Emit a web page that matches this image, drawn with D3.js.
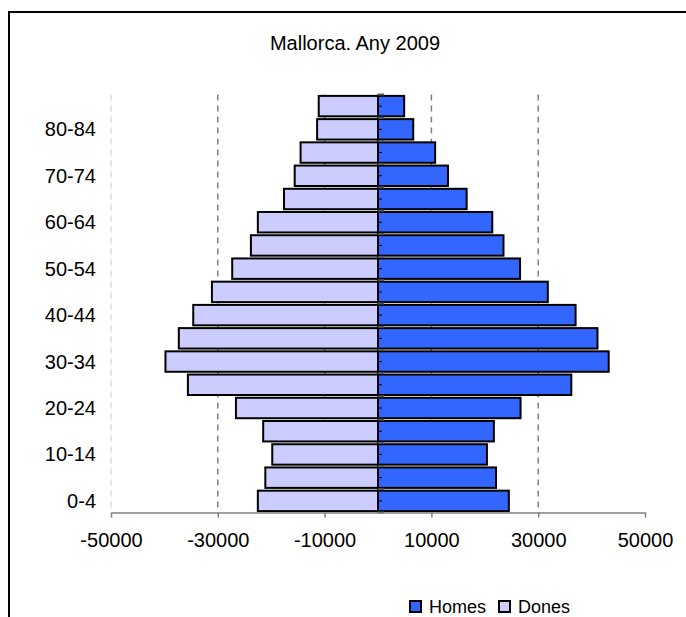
<!DOCTYPE html>
<html>
<head>
<meta charset="utf-8">
<script src="https://cdn.jsdelivr.net/npm/d3@7"></script>
<style>
  body { margin: 0; background: #fff; }
  svg { display: block; font-family: "Liberation Sans", Arial, sans-serif; }
</style>
</head>
<body>
<svg id="chart" width="686" height="617"></svg>
<script>
// age groups, bottom to top
var ageGroups = ['0-4', '5-9', '10-14', '15-19', '20-24', '25-29', '30-34', '35-39', '40-44',
  '45-49', '50-54', '55-59', '60-64', '65-69', '70-74', '75-79', '80-84', '85+'];
var homes = [24500, 22100, 20400, 21700, 26700, 36200, 43200, 41100, 37000,
  31800, 26600, 23500, 21400, 16600, 13100, 10700, 6600, 4900];
var dones = [22500, 21100, 19800, 21500, 26600, 35600, 39800, 37300, 34600,
  31100, 27300, 23800, 22500, 17600, 15600, 14500, 11400, 11100];
var xTicks = [-50000, -30000, -10000, 10000, 30000, 50000];
var shownLabels = ['0-4', '10-14', '20-24', '30-34', '40-44', '50-54', '60-64', '70-74', '80-84'];
var title = 'Mallorca. Any 2009';

(function () {
  'use strict';

  var svg = d3.select('#chart');
  var plot = { left: 111, right: 645, top: 94.5, bottom: 512.5 };
  var colHomes = '#3366ff', colDones = '#ccccff';

  // outer chart frame (runs off the right and bottom of the window)
  svg.append('rect')
    .attr('x', 9).attr('y', 12).attr('width', 720).attr('height', 640)
    .attr('fill', '#fff').attr('stroke', '#000').attr('stroke-width', 2);

  svg.append('text').attr('x', 355).attr('y', 50)
    .attr('text-anchor', 'middle').style('font-size', '20px')
    .text(title);

  var x = d3.scaleLinear().domain([-50000, 50000]).range([plot.left, plot.right]);
  var y = d3.scaleBand().domain(ageGroups.slice().reverse())
    .range([plot.top, plot.bottom]).paddingInner(0.12).paddingOuter(0.06);

  // vertical gridlines
  svg.append('g').selectAll('line')
    .data(xTicks.slice(0, -1)).enter().append('line')
    .attr('x1', function (d) { return x(d); }).attr('x2', function (d) { return x(d); })
    .attr('y1', plot.top).attr('y2', plot.bottom)
    .attr('stroke', function (d) { return d === -50000 ? '#dddddd' : '#808080'; })
    .attr('stroke-width', 1.5)
    .attr('stroke-dasharray', '6,5');

  // bars
  var rows = ageGroups.map(function (g, i) { return { age: g, homes: homes[i], dones: dones[i] }; });
  var bars = svg.append('g');
  bars.selectAll('.dones').data(rows).enter().append('rect')
    .attr('class', 'dones')
    .attr('x', function (d) { return x(-d.dones); })
    .attr('width', function (d) { return x(0) - x(-d.dones); })
    .attr('y', function (d) { return y(d.age); })
    .attr('height', y.bandwidth())
    .attr('fill', colDones).attr('stroke', '#000').attr('stroke-width', 2);
  bars.selectAll('.homes').data(rows).enter().append('rect')
    .attr('class', 'homes')
    .attr('x', x(0))
    .attr('width', function (d) { return x(d.homes) - x(0); })
    .attr('y', function (d) { return y(d.age); })
    .attr('height', y.bandwidth())
    .attr('fill', colHomes).attr('stroke', '#000').attr('stroke-width', 2);

  // y axis at zero
  var yAxis = svg.append('g');
  yAxis.append('line')
    .attr('x1', x(0)).attr('x2', x(0)).attr('y1', plot.top).attr('y2', plot.bottom)
    .attr('stroke', '#000').attr('stroke-width', 1.5);
  yAxis.selectAll('.tick').data(ageGroups).enter().append('line')
    .attr('x1', x(0)).attr('x2', x(0) + 4)
    .attr('y1', function (d) { return y(d) + y.bandwidth() / 2; })
    .attr('y2', function (d) { return y(d) + y.bandwidth() / 2; })
    .attr('stroke', '#000').attr('stroke-width', 1);
  var bounds = d3.range(ageGroups.length + 1).map(function (i) {
    return plot.top + i * y.step();
  });
  yAxis.selectAll('.mtick').data(bounds).enter().append('line')
    .attr('x1', x(0)).attr('x2', x(0) + 6)
    .attr('y1', function (d) { return d; }).attr('y2', function (d) { return d; })
    .attr('stroke', '#555').attr('stroke-width', 2);

  svg.append('g').selectAll('text')
    .data(shownLabels).enter().append('text')
    .attr('x', 96)
    .attr('y', function (d) { return y(d) + y.bandwidth() / 2; })
    .attr('dy', '0.35em').attr('text-anchor', 'end')
    .style('font-size', '20px')
    .text(function (d) { return d; });

  // x axis (plain hyphen for negatives, as in the original)
  var xAxis = svg.append('g')
    .attr('transform', 'translate(0,' + plot.bottom + ')')
    .call(d3.axisBottom(x).tickValues(xTicks).tickSize(5).tickSizeOuter(0).tickPadding(15)
      .tickFormat(function (d) { return String(d); }));
  xAxis.select('.domain').attr('stroke', '#808080').attr('stroke-width', 1.5);
  xAxis.selectAll('.tick line').attr('stroke', '#808080').attr('stroke-width', 1.5);
  xAxis.selectAll('.tick text').attr('fill', '#000')
    .style('font-size', '20px').style('font-family', '"Liberation Sans", Arial, sans-serif');

  // legend
  var legend = svg.append('g');
  var items = [{ name: 'Homes', color: colHomes, x: 410 }, { name: 'Dones', color: colDones, x: 499 }];
  items.forEach(function (it) {
    legend.append('rect').attr('x', it.x).attr('y', 601).attr('width', 11).attr('height', 11)
      .attr('fill', it.color).attr('stroke', '#000').attr('stroke-width', 2);
    legend.append('text').attr('x', it.x + 19).attr('y', 613)
      .style('font-size', '18px').text(it.name);
  });
})();
</script>
</body>
</html>
